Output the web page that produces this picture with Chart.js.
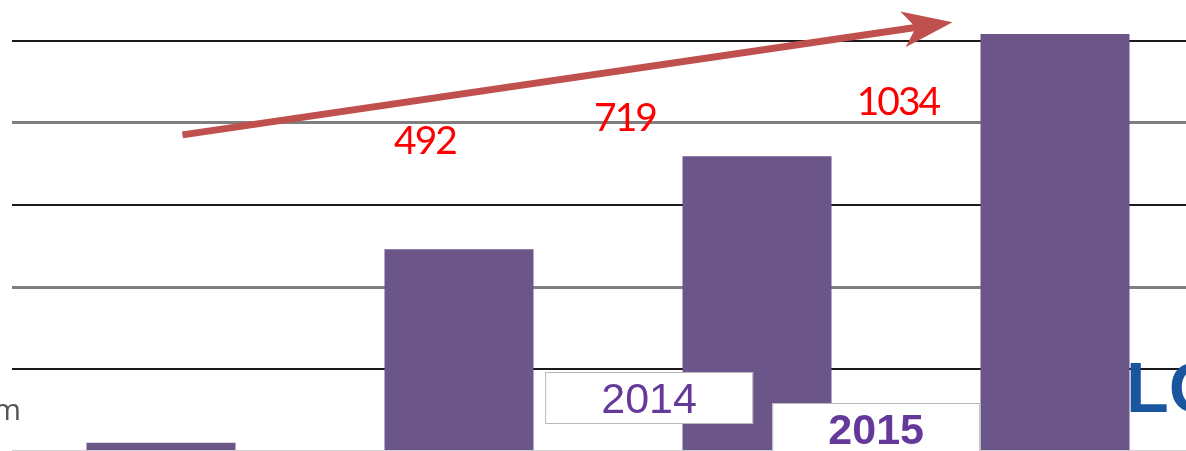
<!DOCTYPE html>
<html><head><meta charset="utf-8">
<script src="https://cdn.jsdelivr.net/npm/chart.js@4.4.1/dist/chart.umd.min.js"></script>
<style>html,body{margin:0;padding:0;overflow:hidden;background:#fff;width:1186px;height:451px}canvas{display:block}</style>
</head><body>
<canvas id="c" width="1204" height="451" style="width:1204px;height:451px"></canvas>
<script>
const categories = ['2012', '2013', '2014', '2015'];
const values = [20, 492, 719, 1017];
const valueLabels = ['492', '719', '1034'];
const yearTags = ['2014', '2015'];
const gridStep = 200;

// annotation anchors in data space (category index, value)
const labelAnchors = [[0.886, 756], [1.557, 810], [2.473, 849]];
const arrowAnchors = [[0.072, 771], [2.656, 1046]];
const tagAnchors = [1.638, 2.40];

const overlay = {
  id: 'overlay',
  afterDatasetsDraw(chart) {
    const ctx = chart.ctx, xs = chart.scales.x, ys = chart.scales.y;
    const px = i => xs.getPixelForValue(0) + i * (xs.getPixelForValue(1) - xs.getPixelForValue(0));
    ctx.save();
    // arrow
    const x1 = px(arrowAnchors[0][0]), y1 = ys.getPixelForValue(arrowAnchors[0][1]);
    const x2 = px(arrowAnchors[1][0]), y2 = ys.getPixelForValue(arrowAnchors[1][1]);
    const L = Math.hypot(x2 - x1, y2 - y1), ux = (x2 - x1) / L, uy = (y2 - y1) / L;
    const nx = -uy, ny = ux;
    const nxp = x2 - 37 * ux, nyp = y2 - 37 * uy;
    ctx.strokeStyle = '#c0504d'; ctx.fillStyle = '#c0504d';
    ctx.lineWidth = 7; ctx.lineCap = 'butt';
    ctx.beginPath(); ctx.moveTo(x1, y1); ctx.lineTo(nxp + 3 * ux, nyp + 3 * uy); ctx.stroke();
    const bx = x2 - 50 * ux, by = y2 - 50 * uy;
    ctx.beginPath();
    ctx.moveTo(x2, y2);
    ctx.lineTo(bx + 18 * nx, by + 18 * ny);
    ctx.lineTo(nxp, nyp);
    ctx.lineTo(bx - 18 * nx, by - 18 * ny);
    ctx.closePath(); ctx.fill();
    // value labels
    ctx.fillStyle = '#ff0000';
    ctx.font = '39px Lato';
    ctx.letterSpacing = '-2px';
    ctx.textAlign = 'center'; ctx.textBaseline = 'middle';
    valueLabels.forEach((t, i) => {
      ctx.fillText(t, px(labelAnchors[i][0]), ys.getPixelForValue(labelAnchors[i][1]));
    });
    ctx.letterSpacing = '0px';
    // year tags
    const tagBoxes = [[372, 51, 'normal'], [403, 60, 'bold']];
    yearTags.forEach((t, i) => {
      const cx = px(tagAnchors[i]);
      const [top, h, w] = tagBoxes[i];
      ctx.fillStyle = '#ffffff';
      ctx.fillRect(cx - 104, top, 208, h);
      ctx.strokeStyle = '#b8b8b8'; ctx.lineWidth = 1;
      ctx.strokeRect(cx - 104 + 0.5, top + 0.5, 207, h);
      ctx.fillStyle = '#65399a';
      ctx.font = w + ' 43px "Liberation Sans"';
      ctx.textBaseline = 'alphabetic';
      ctx.fillText(t, cx, i === 0 ? 413 : 444);
    });
    // cut text at edges
    ctx.fillStyle = '#555555';
    ctx.font = '30px "Open Sans"';
    ctx.textAlign = 'right';
    ctx.fillText('m', 21, 420);
    ctx.fillStyle = '#1a56a0';
    ctx.font = 'bold 70px "Liberation Sans"';
    ctx.textAlign = 'left';
    ctx.fillText('LO', 1126, 412);
    ctx.restore();
  }
};

new Chart(document.getElementById('c'), {
  type: 'bar',
  data: {
    labels: categories,
    datasets: [{
      data: values,
      backgroundColor: '#6b5589',
      borderWidth: 0,
      barPercentage: 1,
      categoryPercentage: 0.5
    }]
  },
  options: {
    responsive: false,
    animation: false,
    devicePixelRatio: 1,
    layout: { padding: 0 },
    plugins: { legend: { display: false }, tooltip: { enabled: false } },
    scales: {
      x: { display: false },
      y: {
        min: 0, max: 1100,
        ticks: { display: false, stepSize: gridStep },
        border: { display: false },
        afterFit: s => { s.width = 12; },
        grid: {
          drawTicks: false,
          color: c => {
            const v = c.tick.value;
            if (v === 0) return '#d0d0d0';
            if (v % gridStep !== 0) return 'rgba(0,0,0,0)';
            return (v / gridStep) % 2 === 1 ? '#1a1a1a' : '#7f7f7f';
          },
          lineWidth: c => {
            const v = c.tick.value;
            if (v === 0) return 2;
            return (v / gridStep) % 2 === 1 ? 2 : 3;
          }
        }
      }
    }
  },
  plugins: [overlay]
});
</script>
</body></html>
